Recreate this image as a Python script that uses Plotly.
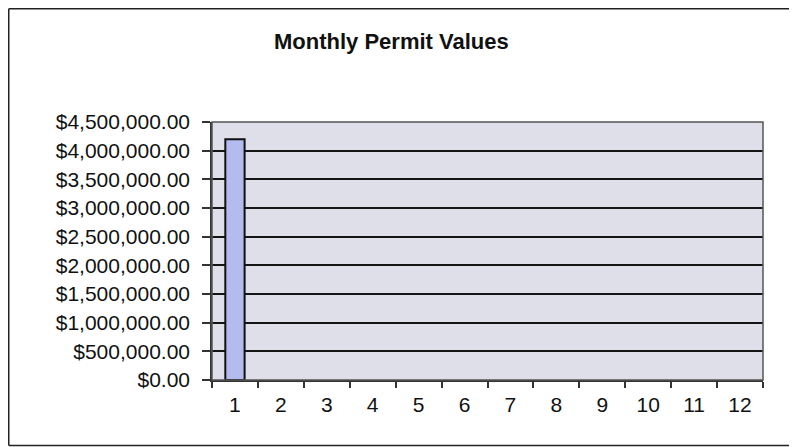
import plotly.graph_objects as go

months = list(range(1, 13))
permit_values = [4200000, None, None, None, None, None, None, None, None, None, None, None]
y_ticks = [0, 500000, 1000000, 1500000, 2000000, 2500000, 3000000, 3500000, 4000000, 4500000]
y_tick_labels = ["$%s.00" % format(v, ",") for v in y_ticks]
title_text = "Monthly Permit Values"

# page has an 8px body margin, so the figure is laid out 8px smaller
W, H = 789, 439
L, R, T, B = 204, 34, 114, 67
PW, PH = W - L - R, H - T - B


def px_x(x):
    return (x - L) / PW


def px_y(y):
    return (H - B - y) / PH


border = dict(color="#222222", width=1.5)
bx0, bx1 = px_x(0.75), px_x(W + 20)
by0, by1 = px_y(H - 1.5), px_y(0.75)

fig = go.Figure()
fig.add_trace(go.Bar(
    x=months, y=permit_values, width=0.42,
    marker=dict(color="#b3bbef", line=dict(color="#111111", width=2)),
    showlegend=False, hoverinfo="skip",
))

fig.update_layout(
    width=W, height=H,
    margin=dict(l=L, r=R, t=T, b=B, pad=0),
    paper_bgcolor="white", plot_bgcolor="#dfdfe9",
    font=dict(family="Liberation Sans, Arial, sans-serif", color="#111111", size=21),
    xaxis=dict(
        range=[0.5, 12.5], tickmode="array", tickvals=months,
        ticktext=[str(m) for m in months], ticks="", showgrid=False,
        showline=True, linecolor="#333333", linewidth=1.5, zeroline=False,
        tickfont=dict(size=21), ticklabelstandoff=5,
        minor=dict(tickmode="linear", tick0=0.5, dtick=1, ticks="outside",
                   ticklen=6, tickcolor="#333333", tickwidth=1.5, showgrid=False),
    ),
    yaxis=dict(
        range=[0, 4500000], tickmode="array", tickvals=y_ticks,
        ticktext=y_tick_labels, ticks="outside", ticklen=8,
        tickcolor="#333333", tickwidth=1.5,
        showgrid=True, gridcolor="#151515", gridwidth=1.8,
        showline=True, linecolor="#333333", linewidth=1.5, zeroline=False,
        tickfont=dict(size=21), ticklabelstandoff=8,
    ),
    shapes=[
        dict(type="rect", xref="paper", yref="paper", x0=0, x1=1, y0=0, y1=1,
             line=dict(color="#555555", width=1.5), fillcolor="rgba(0,0,0,0)", layer="above"),
        dict(type="line", xref="paper", yref="paper", x0=bx0, x1=bx0, y0=by0, y1=by1, line=border),
        dict(type="line", xref="paper", yref="paper", x0=bx0, x1=bx1, y0=by1, y1=by1, line=border),
        dict(type="line", xref="paper", yref="paper", x0=bx0, x1=bx1, y0=by0, y1=by0, line=border),
    ],
    annotations=[dict(
        text="<b>%s</b>" % title_text, xref="paper", yref="paper",
        x=px_x(383), y=px_y(34),
        xanchor="center", yanchor="middle", showarrow=False,
        font=dict(size=22, color="#111111"),
    )],
)

fig.write_html("out.html")
